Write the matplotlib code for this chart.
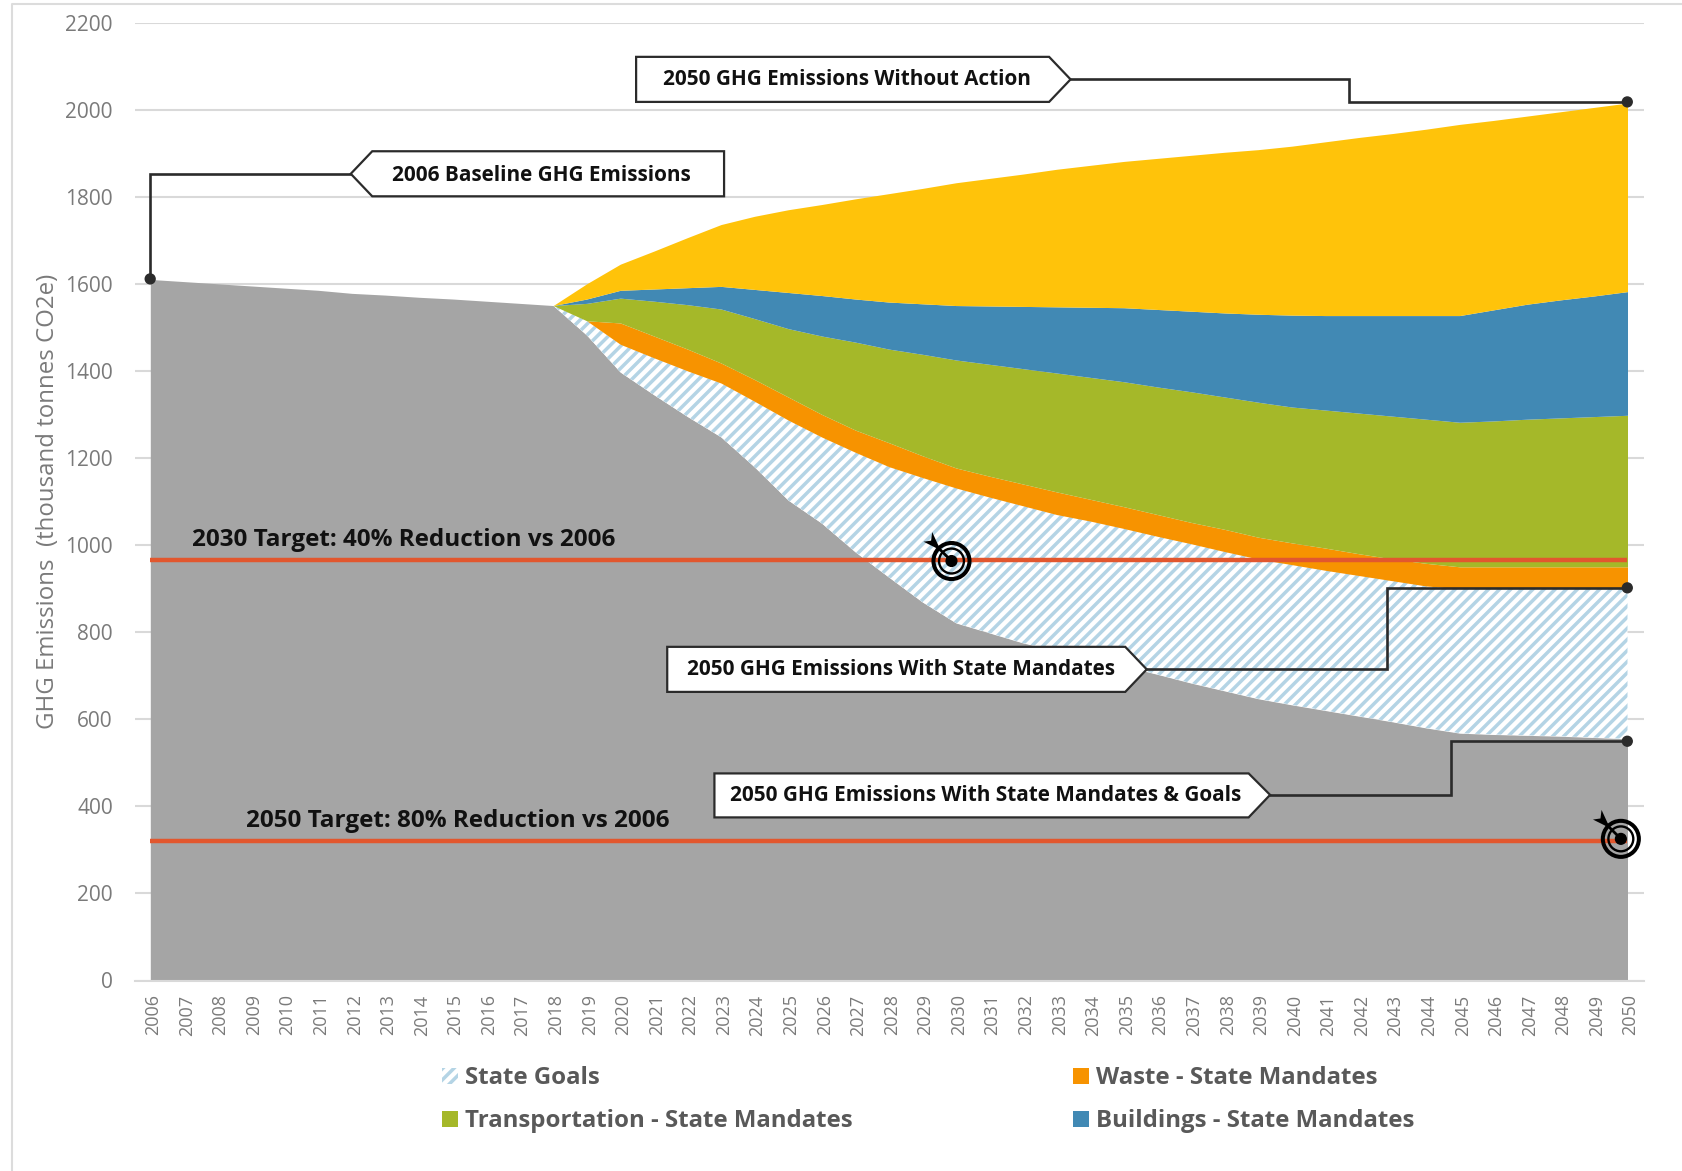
import numpy as np
import matplotlib
matplotlib.use('Agg')
import matplotlib.pyplot as plt
from matplotlib.patches import Patch, Polygon, Circle
from matplotlib.transforms import Affine2D, ScaledTranslation

plt.rcParams['font.family'] = ['Open Sans', 'DejaVu Sans']

W, H = 1682, 1171
k = 1682 / 1568

years = np.arange(2006, 2051)
years_split = np.arange(2018, 2051)
y_ticks = np.arange(0, 2201, 200)

# top edge of each band, thousand tonnes CO2e
with_goals = [1610, 1605, 1600, 1595, 1590, 1585, 1578, 1574, 1569, 1565, 1560, 1555, 1550,
              1482, 1397, 1345, 1295, 1248, 1179, 1103, 1050, 984, 926, 869, 821,
              798, 775, 757, 740, 722, 703, 683, 665, 647, 633,
              620, 607, 594, 580, 568, 565, 563, 561, 558, 555]
state_goals = [1550, 1515, 1461, 1430, 1400, 1372, 1330, 1287, 1248, 1213, 1180, 1155, 1131,
               1110, 1090, 1070, 1055, 1038, 1020, 1003, 985, 968, 955,
               942, 930, 918, 906, 900, 900, 900, 900, 900, 900]
waste = [1550, 1515, 1510, 1480, 1450, 1418, 1380, 1340, 1300, 1264, 1235, 1205, 1177,
         1158, 1140, 1122, 1105, 1088, 1070, 1052, 1036, 1018, 1005,
         993, 980, 968, 958, 950, 950, 950, 950, 950, 950]
transportation = [1550, 1555, 1567, 1560, 1552, 1542, 1520, 1497, 1480, 1466, 1450, 1438, 1425,
                  1415, 1405, 1395, 1385, 1375, 1363, 1352, 1340, 1328, 1317,
                  1310, 1303, 1296, 1289, 1282, 1285, 1289, 1292, 1295, 1298]
buildings = [1550, 1565, 1585, 1588, 1591, 1594, 1587, 1580, 1573, 1565, 1558, 1554, 1550,
             1549, 1548, 1547, 1546, 1545, 1541, 1537, 1533, 1530, 1528,
             1527, 1527, 1527, 1527, 1527, 1540, 1553, 1563, 1572, 1582]
no_action = [1550, 1600, 1645, 1675, 1706, 1736, 1755, 1770, 1782, 1795, 1807, 1819, 1832,
             1842, 1852, 1863, 1872, 1881, 1888, 1895, 1902, 1908, 1916,
             1926, 1936, 1945, 1955, 1966, 1975, 1985, 1995, 2005, 2015]

target_2030 = 965
target_2050 = 320

c_gray = '#a5a5a5'
c_hatch = '#b4d4e5'
c_waste = '#f79300'
c_trans = '#a5b829'
c_build = '#4189b4'
c_yellow = '#ffc30a'
c_red = '#e2572e'
c_line = '#2b2b2b'
c_text = '#7a7a7a'

plt.rcParams['hatch.linewidth'] = 2.5

fig = plt.figure(figsize=(W / 100, H / 100), dpi=100)
px = Affine2D().scale(k, -k).translate(0, H)  # view coordinates, y pointing down

# plot area: 2006 sits at x=150 and 2050 at x=1627, 0 at y=980 and 2200 at y=22
ax = fig.add_axes([135 / W, 1 - 980.5 / H, (1644 - 135) / W, (980.5 - 22.5) / H])
ax.set_xlim(2006 - 15.3 / 33.57, 2050 + 16.5 / 33.57)
ax.set_ylim(0, 2200)

ax.grid(axis='y', color='#d9d9d9', lw=1.5, zorder=0)
ax.set_axisbelow(True)
for s in ['top', 'right', 'left']:
    ax.spines[s].set_visible(False)
ax.spines['bottom'].set_color('#d9d9d9')
ax.spines['bottom'].set_linewidth(1.5)

lower = np.array(with_goals)[12:]
ax.fill_between(years, 0, with_goals, color=c_gray, lw=0, zorder=2)
ax.fill_between(years_split, lower, state_goals, facecolor='white', edgecolor=c_hatch,
                hatch='///', lw=0, zorder=2)
ax.fill_between(years_split, state_goals, waste, color=c_waste, lw=0, zorder=2)
ax.fill_between(years_split, waste, transportation, color=c_trans, lw=0, zorder=2)
ax.fill_between(years_split, transportation, buildings, color=c_build, lw=0, zorder=2)
ax.fill_between(years_split, buildings, no_action, color=c_yellow, lw=0, zorder=2)

ax.plot([2006, 2050], [target_2030, target_2030], color=c_red, lw=3.2, zorder=3, solid_capstyle='butt')
ax.plot([2006, 2050], [target_2050, target_2050], color=c_red, lw=3.2, zorder=3, solid_capstyle='butt')

ax.set_yticks(y_ticks)
ax.set_xticks(years)
ax.set_xticklabels(years, rotation=90)
ax.tick_params(axis='y', length=0, pad=16, labelsize=15, labelcolor=c_text)
ax.tick_params(axis='x', length=0, pad=10, labelsize=13, labelcolor=c_text)
for lab in ax.get_xticklabels():
    lab.set_transform(lab.get_transform() + ScaledTranslation(3 / 100, 0, fig.dpi_scale_trans))
ax.set_ylabel('GHG Emissions  (thousand tonnes CO2e)', fontsize=17.3, color=c_text)
ax.yaxis.set_label_coords((60 - 135) / 1509, 0.5)

ax.text(2006 + (179 - 140) * k / 33.57, 983, '2030 Target: 40% Reduction vs 2006',
        fontsize=17.5, fontweight='bold', color='#111111', va='bottom', zorder=6)
ax.text(2006 + (229 - 140) * k / 33.57, 339, '2050 Target: 80% Reduction vs 2006',
        fontsize=17.5, fontweight='bold', color='#111111', va='bottom', zorder=6)


def callout(points, label, tx, ty):
    fig.add_artist(Polygon(points, closed=True, facecolor='white', edgecolor=c_line, lw=1.6,
                           transform=px, zorder=8))
    fig.text(tx * k / W, 1 - ty * k / H, label, fontsize=14.95, fontweight='bold', color='#111111',
             ha='center', va='center', zorder=9)


def connector(xs, ys):
    fig.add_artist(plt.Line2D(xs, ys, color=c_line, lw=1.9, transform=px, zorder=7,
                              solid_joinstyle='miter'))
    fig.add_artist(Circle((xs[-1], ys[-1]), 4.6, color=c_line, transform=px, zorder=7))


connector([998, 1258, 1258, 1517], [74, 74, 95, 95])
callout([(593, 53), (978, 53), (998, 74), (978, 95), (593, 95)],
        '2050 GHG Emissions Without Action', 790, 74.5)

connector([327, 140, 140], [162, 162, 260])
callout([(347, 141), (675, 141), (675, 183), (347, 183), (327, 162)],
        '2006 Baseline GHG Emissions', 505, 163.5)

connector([1069, 1293, 1293, 1517], [624, 624, 548, 548])
callout([(622, 603), (1049, 603), (1069, 624), (1049, 645), (622, 645)],
        '2050 GHG Emissions With State Mandates', 840, 624.5)

connector([1184, 1353, 1353, 1517], [741, 741, 691, 691])
callout([(666, 721), (1164, 721), (1184, 741), (1164, 762), (666, 762)],
        '2050 GHG Emissions With State Mandates & Goals', 919, 741.5)


def target_icon(cx, cy):
    fig.add_artist(Circle((cx, cy), 16.8, fill=False, ec='black', lw=2.9, transform=px, zorder=6))
    fig.add_artist(Circle((cx, cy), 11.6, fill=False, ec='black', lw=1.7, transform=px, zorder=6))
    fig.add_artist(Circle((cx, cy), 5, color='black', transform=px, zorder=6))
    fig.add_artist(plt.Line2D([cx, cx - 16], [cy, cy - 16], color='black', lw=2, transform=px, zorder=6))
    fig.add_artist(Polygon([(cx - 14, cy - 12), (cx - 26, cy - 18), (cx - 19, cy - 19),
                            (cx - 18, cy - 27), (cx - 12, cy - 14)],
                           closed=True, color='black', lw=0, transform=px, zorder=6))


target_icon(887, 523)
target_icon(1511, 782)

handles = [Patch(facecolor='white', edgecolor=c_hatch, hatch='///', lw=0, label='State Goals'),
           Patch(color=c_trans, lw=0, label='Transportation - State Mandates'),
           Patch(color=c_waste, lw=0, label='Waste - State Mandates'),
           Patch(color=c_build, lw=0, label='Buildings - State Mandates')]
fig.legend(handles=handles, ncol=2, loc='upper left',
           bbox_to_anchor=(412 * k / W, 1 - 994 * k / H), frameon=False, borderpad=0, borderaxespad=0,
           prop={'size': 17.3, 'weight': 'bold'}, labelcolor='#595959',
           handlelength=0.65, handleheight=0.65, handletextpad=0.29,
           columnspacing=9.2, labelspacing=0.8)

# thin frame of the screenshot
fig.add_artist(plt.Line2D([11, 11, 1568], [1092, 4, 4], color='#dcdcdc', lw=1.5, transform=px, zorder=1))

fig.savefig('out.png', dpi=100, facecolor='white')
